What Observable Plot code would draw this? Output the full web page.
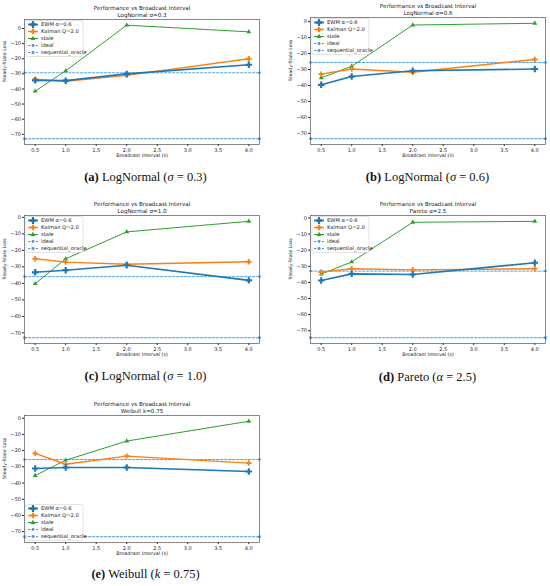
<!DOCTYPE html>
<html>
<head>
<meta charset="utf-8">
<script src="https://cdn.jsdelivr.net/npm/d3@7"></script>
<script src="https://cdn.jsdelivr.net/npm/@observablehq/plot@0.6"></script>
<style>
  html, body { margin: 0; padding: 0; background: #fff; }
  #root { position: relative; width: 550px; height: 586px; background: #fff; overflow: hidden; }
  .panel { position: absolute; }
  .cap { position: absolute; font-family: "Liberation Serif", "DejaVu Serif", serif; font-size: 12.5px; color: #111; white-space: nowrap; transform: translateX(-50%); }
  .cap b { font-weight: bold; }
</style>
</head>
<body>
<div id="root"></div>
<script>
// ---- data ----
const intervals = [0.5, 1.0, 2.0, 4.0];
const xTicks = [0.5, 1.0, 1.5, 2.0, 2.5, 3.0, 3.5, 4.0];
const yTicks = [0, -10, -20, -30, -40, -50, -60, -70];
const seriesNames = ["EWM α=0.6", "Kalman Q=2.0", "stale", "ideal", "sequential_oracle"];

const aEwm = [-34.3, -34.5, -30.0, -24.0];
const aKalman = [-33.5, -35.0, -31.0, -20.0];
const aStale = [-41.5, -28.0, 2.2, -2.2];
const aIdeal = -29.3, aOracle = -73.0;

const bEwm = [-39.6, -34.4, -30.8, -29.7];
const bKalman = [-32.9, -29.7, -31.7, -23.7];
const bStale = [-35.2, -28.0, -2.1, -1.0];
const bIdeal = -25.6, bOracle = -73.4;

const cEwm = [-33.3, -32.0, -29.0, -38.2];
const cKalman = [-25.1, -27.1, -28.4, -26.9];
const cStale = [-40.2, -25.1, -8.8, -2.4];
const cIdeal = -35.9, cOracle = -72.9;

const dEwm = [-38.8, -34.7, -35.1, -27.8];
const dKalman = [-33.6, -31.5, -32.2, -31.5];
const dStale = [-34.9, -27.3, -2.7, -2.1];
const dIdeal = -33.0, dOracle = -74.3;

const eEwm = [-31.0, -30.4, -30.4, -32.9];
const eKalman = [-21.7, -28.4, -23.4, -27.7];
const eStale = [-35.4, -25.9, -14.1, -1.9];
const eIdeal = -25.5, eOracle = -73.1;

const mainTitle = "Performance vs Broadcast Interval";
const subTitles = ["LogNormal σ=0.3", "LogNormal σ=0.6", "LogNormal σ=1.0", "Pareto α=2.5", "Weibull k=0.75"];
const captions = [
  ["a", "LogNormal (", "σ", " = 0.3)"],
  ["b", "LogNormal (", "σ", " = 0.6)"],
  ["c", "LogNormal (", "σ", " = 1.0)"],
  ["d", "Pareto (", "α", " = 2.5)"],
  ["e", "Weibull (", "k", " = 0.75)"]
];

// ---- styles ----
const C = { ewm: "#1f77b4", kal: "#ff7f0e", stale: "#2ca02c", ref: "#4b97d6" };
const FONT = "DejaVu Sans, sans-serif";

const panels = [
  { ewm: aEwm, kal: aKalman, stale: aStale, ideal: aIdeal, oracle: aOracle, left: 0,   top: 0,   w: 275, h: 162, ml: 24, mr: 16, mt: 19, mb: 18, legend: "top",    capY: 170 },
  { ewm: bEwm, kal: bKalman, stale: bStale, ideal: bIdeal, oracle: bOracle, left: 275, top: 0,   w: 275, h: 162, ml: 35, mr: 5,  mt: 17, mb: 18, legend: "top",    capY: 170 },
  { ewm: cEwm, kal: cKalman, stale: cStale, ideal: cIdeal, oracle: cOracle, left: 0,   top: 200, w: 275, h: 162, ml: 24, mr: 16, mt: 15, mb: 19, legend: "top",    capY: 369 },
  { ewm: dEwm, kal: dKalman, stale: dStale, ideal: dIdeal, oracle: dOracle, left: 275, top: 200, w: 275, h: 162, ml: 35, mr: 5,  mt: 15, mb: 19, legend: "top",    capY: 370 },
  { ewm: eEwm, kal: eKalman, stale: eStale, ideal: eIdeal, oracle: eOracle, left: 0,   top: 395, w: 275, h: 165, ml: 24, mr: 16, mt: 20, mb: 18, legend: "bottom", capY: 567 }
];

const xPad = 0.05 * (d3.max(intervals) - d3.min(intervals));
const xDomain = [d3.min(intervals) - xPad, d3.max(intervals) + xPad];

const root = document.getElementById("root");

panels.forEach((p, i) => {
  const all = [...p.ewm, ...p.kal, ...p.stale, p.ideal, p.oracle];
  const [lo, hi] = d3.extent(all);
  const yPad = 0.05 * (hi - lo);
  const yDomain = [lo - yPad, hi + yPad];

  const rows = (arr, s) => arr.map((v, j) => ({ x: intervals[j], y: v, s }));
  const ewm = rows(p.ewm, seriesNames[0]);
  const kal = rows(p.kal, seriesNames[1]);
  const stale = rows(p.stale, seriesNames[2]);
  const ideal = xDomain.map(x => ({ x, y: p.ideal }));
  const oracle = xDomain.map(x => ({ x, y: p.oracle }));

  const fw = p.w - p.ml - p.mr, fh = p.h - p.mt - p.mb;

  // legend as a render-function mark
  const legendMark = () => {
    const g = d3.create("svg:g").attr("font-family", FONT).attr("font-size", 5.2).attr("text-anchor", "start");
    const bx = p.ml + 2, bw = 57, bh = 36;
    const by = p.legend === "top" ? p.mt + 1.5 : p.mt + fh - bh - 1.5;
    g.append("rect").attr("x", bx).attr("y", by).attr("width", bw).attr("height", bh)
      .attr("rx", 1.5).attr("fill", "white").attr("fill-opacity", 0.85).attr("stroke", "#d0d0d0").attr("stroke-width", 0.6);
    const items = [
      { c: C.ewm, sym: d3.symbolCross, size: 26, dash: null, lw: 1.6 },
      { c: C.kal, sym: d3.symbolCross, size: 18, dash: null, lw: 1.4 },
      { c: C.stale, sym: d3.symbolTriangle, size: 10, dash: null, lw: 1 },
      { c: C.ref, sym: d3.symbolCircle, size: 6, dash: "2.4,1.6", lw: 1 },
      { c: C.ref, sym: d3.symbolSquare, size: 7, dash: "2.4,1.6", lw: 1.1 }
    ];
    items.forEach((it, k) => {
      const yy = by + 4 + k * 7;
      g.append("line").attr("x1", bx + 2).attr("x2", bx + 12).attr("y1", yy).attr("y2", yy)
        .attr("stroke", it.c).attr("stroke-width", it.lw).attr("stroke-dasharray", it.dash);
      g.append("path").attr("d", d3.symbol(it.sym, it.size)()).attr("transform", `translate(${bx + 7},${yy})`).attr("fill", it.c);
      g.append("text").attr("x", bx + 15).attr("y", yy).attr("dy", "0.35em").attr("text-anchor", "start").attr("fill", "#222").text(seriesNames[k]);
    });
    return g.node();
  };

  const chart = Plot.plot({
    width: p.w,
    height: p.h,
    marginLeft: p.ml, marginRight: p.mr, marginTop: p.mt, marginBottom: p.mb,
    style: { fontFamily: FONT, fontSize: "5px", background: "white", overflow: "visible", color: "#222" },
    x: { domain: xDomain, ticks: xTicks, tickFormat: d => d.toFixed(1), tickSize: 2, tickPadding: 1.5, label: null },
    y: { domain: yDomain, ticks: yTicks, tickSize: 2, tickPadding: 1.5, label: null },
    marks: [
      // reference lines
      Plot.line(ideal, { x: "x", y: "y", stroke: C.ref, strokeWidth: 0.9, strokeDasharray: "2.4,1.6" }),
      Plot.dot(ideal, { x: "x", y: "y", symbol: "circle", r: 1.3, fill: C.ref, clip: false }),
      Plot.line(oracle, { x: "x", y: "y", stroke: C.ref, strokeWidth: 1.1, strokeDasharray: "2.4,1.6" }),
      Plot.dot(oracle, { x: "x", y: "y", symbol: "square", r: 1.4, fill: C.ref, clip: false }),
      // series
      Plot.line(stale, { x: "x", y: "y", stroke: C.stale, strokeWidth: 1 }),
      Plot.dot(stale, { x: "x", y: "y", symbol: "triangle", r: 1.8, fill: C.stale }),
      Plot.line(kal, { x: "x", y: "y", stroke: C.kal, strokeWidth: 1.4 }),
      Plot.dot(kal, { x: "x", y: "y", symbol: "cross", r: 2.3, fill: C.kal }),
      Plot.line(ewm, { x: "x", y: "y", stroke: C.ewm, strokeWidth: 1.6 }),
      Plot.dot(ewm, { x: "x", y: "y", symbol: "cross", r: 2.7, fill: C.ewm }),
      Plot.frame({ stroke: "#555", strokeWidth: 0.7 }),
      // titles and axis labels
      Plot.text([mainTitle], { frameAnchor: "top", dy: -13, fontSize: 5.6, fill: "#222" }),
      Plot.text([subTitles[i]], { frameAnchor: "top", dy: -6.5, fontSize: 5.6, fill: "#222" }),
      Plot.text(["Broadcast Interval (s)"], { frameAnchor: "bottom", dy: 12, fontSize: 4.8, fill: "#222" }),
      Plot.text(["Steady-State Loss"], { frameAnchor: "left", dx: -19.5, rotate: -90, fontSize: 4.6, fill: "#222" }),
      legendMark
    ]
  });

  const div = document.createElement("div");
  div.className = "panel";
  div.style.left = p.left + "px";
  div.style.top = p.top + "px";
  div.appendChild(chart);
  root.appendChild(div);

  const cap = document.createElement("div");
  cap.className = "cap";
  const cx = p.left + p.ml + fw / 2 + (p.left === 0 ? 4 : 0);
  cap.style.left = cx + "px";
  cap.style.top = p.capY + "px";
  const [letter, pre, sym, post] = captions[i];
  cap.innerHTML = `<b>(${letter})</b> ${pre}<i>${sym}</i>${post}`;
  root.appendChild(cap);
});
</script>
</body>
</html>
